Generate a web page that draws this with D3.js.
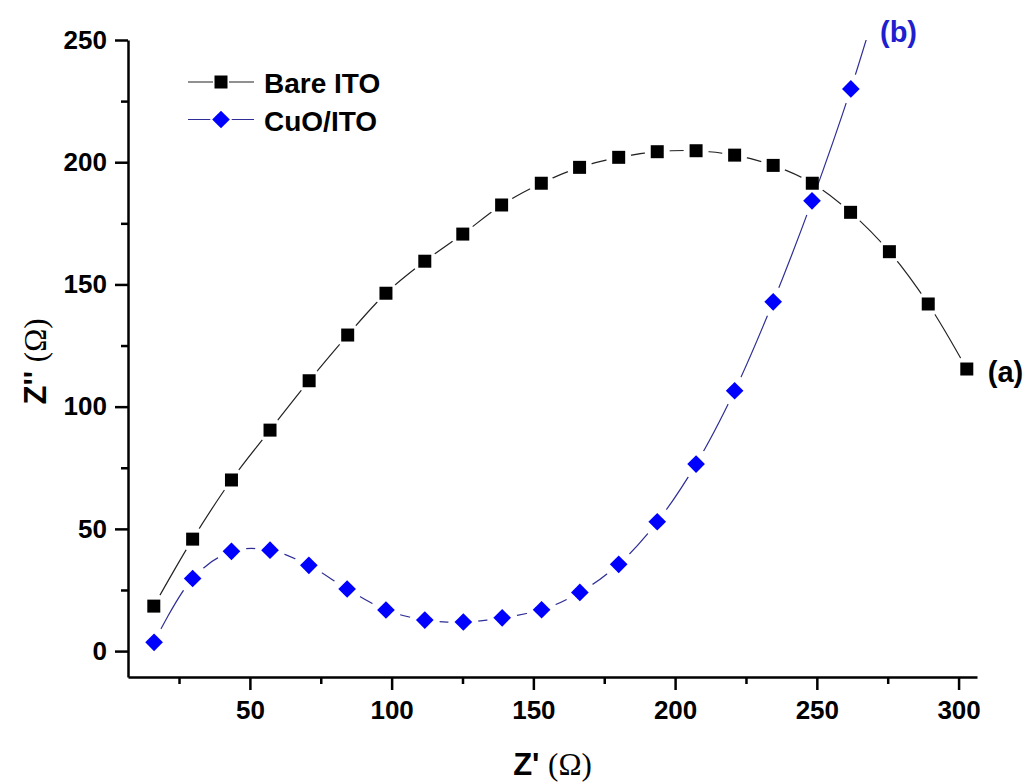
<!DOCTYPE html>
<html>
<head>
<meta charset="utf-8">
<script src="https://cdnjs.cloudflare.com/ajax/libs/d3/7.8.5/d3.min.js"></script>
<style>
  body { margin: 0; background: #fff; }
  .axis text { font-family: "Liberation Sans", Arial, sans-serif; font-weight: bold; font-size: 26px; fill: #000; }
  .axis path, .axis line { stroke: #000; stroke-width: 2.5; }
</style>
</head>
<body>
<div id="canvas"></div>
<script>
var zReBare = [16.1, 29.8, 43.5, 57.1, 70.9, 84.5, 98.0, 111.7, 125.1, 138.8, 152.8, 166.3, 180.1, 193.7, 207.4, 221.0, 234.6, 248.4, 261.9, 275.6, 289.3, 302.9];
var zImBare = [18.4, 45.8, 70.0, 90.4, 110.6, 129.3, 146.4, 159.5, 170.6, 182.5, 191.4, 197.9, 202.0, 204.3, 204.7, 202.9, 198.7, 191.4, 179.5, 163.4, 142.0, 115.4];

// last CuO point sits above the top of the axis, only its line shows
var zReCuO = [16.2, 29.8, 43.5, 57.1, 70.8, 84.3, 98.0, 111.7, 125.3, 139.0, 152.9, 166.4, 180.1, 193.7, 207.4, 221.0, 234.6, 248.3, 262.0, 275.6];
var zImCuO = [3.6, 29.7, 40.8, 41.3, 35.1, 25.4, 16.8, 12.7, 11.9, 13.6, 16.9, 24.0, 35.5, 52.9, 76.5, 106.5, 142.9, 184.2, 230.0, 282.0];

var seriesNames = ['Bare ITO', 'CuO/ITO'];
var curveLabels = ['(a)', '(b)'];

var xTicks = [50, 100, 150, 200, 250, 300],
    xMinor = [25, 75, 125, 175, 225, 275],
    yTicks = [0, 50, 100, 150, 200, 250],
    yMinor = [25, 75, 125, 175, 225];

var W = 1031, H = 783;
var m = {t:40, r:54, b:106, l:128},
    w = W - m.l - m.r,
    h = H - m.t - m.b;

var svg = d3.select('#canvas')
    .append('svg')
    .attr('width', W)
    .attr('height', H);

var x = d3.scaleLinear().domain([7, 306.5]).range([m.l, m.l + w]);
var y = d3.scaleLinear().domain([-10.6, 250]).range([m.t + h, m.t]);

var defs = svg.append('defs');
defs.append('clipPath').attr('id', 'plotClip')
    .append('rect')
    .attr('x', m.l).attr('y', m.t)
    .attr('width', w).attr('height', h);

// the diamond is a square turned 45 degrees, like Origin draws it
var series = [
    {name: seriesNames[0], xs: zReBare, ys: zImBare, line: '#222', fill: '#000', size: 13*13, rot: 0, gap: 12.5},
    {name: seriesNames[1], xs: zReCuO, ys: zImCuO, line: '#2e2e96', fill: '#0000ff', size: 12.5*12.5, rot: 45, gap: 15}
];

var line = d3.line()
    .x(function(d){ return x(d[0]); })
    .y(function(d){ return y(d[1]); })
    .curve(d3.curveCatmullRom.alpha(0.5));

// axes
svg.append('g').attr('class', 'axis')
    .attr('transform', 'translate(0,' + (m.t + h) + ')')
    .call(d3.axisBottom(x).tickValues(xTicks).tickSize(13).tickSizeOuter(0).tickPadding(11));
svg.append('g').attr('class', 'axis')
    .attr('transform', 'translate(0,' + (m.t + h) + ')')
    .call(d3.axisBottom(x).tickValues(xMinor).tickSize(7).tickSizeOuter(0).tickFormat(''))
    .select('.domain').remove();

svg.append('g').attr('class', 'axis')
    .attr('transform', 'translate(' + m.l + ',0)')
    .call(d3.axisLeft(y).tickValues(yTicks).tickSize(13).tickSizeOuter(0).tickPadding(8));
svg.append('g').attr('class', 'axis')
    .attr('transform', 'translate(' + m.l + ',0)')
    .call(d3.axisLeft(y).tickValues(yMinor).tickSize(7).tickSizeOuter(0).tickFormat(''))
    .select('.domain').remove();

// lines, with Origin-style gaps around each marker (done with a mask)
series.forEach(function(s, i){
    var pts = s.xs.map(function(v, k){ return [v, s.ys[k]]; });
    s.pts = pts;

    var mask = defs.append('mask').attr('id', 'gap' + i)
        .attr('maskUnits', 'userSpaceOnUse')
        .attr('x', 0).attr('y', 0).attr('width', W).attr('height', H);
    mask.append('rect').attr('width', W).attr('height', H).attr('fill', '#fff');
    mask.selectAll('circle').data(pts).enter().append('circle')
        .attr('cx', function(d){ return x(d[0]); })
        .attr('cy', function(d){ return y(d[1]); })
        .attr('r', s.gap)
        .attr('fill', '#000');

    svg.append('g').attr('clip-path', 'url(#plotClip)')
        .append('path')
        .datum(pts)
        .attr('d', line)
        .attr('fill', 'none')
        .attr('stroke', s.line)
        .attr('stroke-width', 1.2)
        .attr('mask', 'url(#gap' + i + ')');
});

// markers
series.forEach(function(s){
    svg.append('g').attr('clip-path', 'url(#plotClip)')
        .selectAll('path')
        .data(s.pts)
        .enter().append('path')
        .attr('d', d3.symbol().type(d3.symbolSquare).size(s.size))
        .attr('transform', function(d){ return 'translate(' + x(d[0]) + ',' + y(d[1]) + ') rotate(' + s.rot + ')'; })
        .attr('fill', s.fill);
});

// legend
var legend = svg.append('g').attr('transform', 'translate(188,82)');
series.forEach(function(s, i){
    var row = legend.append('g').attr('transform', 'translate(0,' + (i * 37.5) + ')');
    row.append('line').attr('x1', 0).attr('x2', 66).attr('y1', 0).attr('y2', 0)
        .attr('stroke', s.line).attr('stroke-width', 1.2);
    row.append('path')
        .attr('d', d3.symbol().type(d3.symbolSquare).size(s.size))
        .attr('transform', 'translate(33,0) rotate(' + s.rot + ')')
        .attr('fill', s.fill)
        .attr('stroke', '#fff').attr('stroke-width', 3).attr('paint-order', 'stroke');
    row.append('text')
        .attr('x', 76).attr('y', 11)
        .style('font-family', '"Liberation Sans", Arial, sans-serif')
        .style('font-weight', 'bold')
        .style('font-size', '28px')
        .text(s.name);
});

// curve tags
svg.append('text')
    .attr('x', x(zReBare[zReBare.length - 1]) + 21)
    .attr('y', y(zImBare[zImBare.length - 1]) + 13)
    .style('font-family', '"Liberation Sans", Arial, sans-serif')
    .style('font-weight', 'bold').style('font-size', '29px')
    .attr('fill', '#000')
    .text(curveLabels[0]);
svg.append('text')
    .attr('x', 880).attr('y', 42)
    .style('font-family', '"Liberation Sans", Arial, sans-serif')
    .style('font-weight', 'bold').style('font-size', '29px')
    .attr('fill', '#1f1fcf')
    .text(curveLabels[1]);

// axis titles
function axisTitle(sel, primes){
    sel.style('font-size', '31px');
    sel.append('tspan')
        .style('font-family', '"Liberation Sans", Arial, sans-serif')
        .style('font-weight', 'bold')
        .text('Z' + primes + ' ');
    sel.append('tspan')
        .style('font-family', '"Liberation Serif", "Times New Roman", serif')
        .text('(\u03A9)');
}
svg.append('text')
    .attr('x', m.l + w / 2).attr('y', 775)
    .attr('text-anchor', 'middle')
    .call(axisTitle, "'");
svg.append('text')
    .attr('transform', 'translate(46,' + (m.t + h / 2 + 3) + ') rotate(-90)')
    .attr('text-anchor', 'middle')
    .call(axisTitle, "''");
</script>
</body>
</html>
